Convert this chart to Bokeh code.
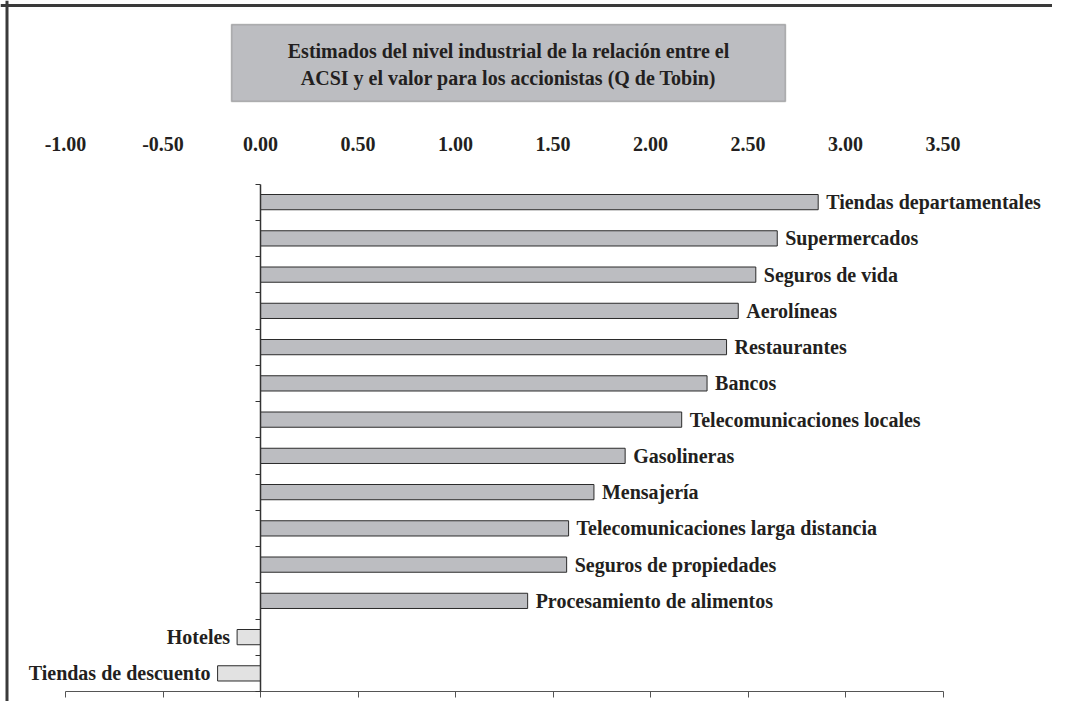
from bokeh.plotting import figure
from bokeh.models import (ColumnDataSource, LinearAxis, FixedTicker, NumeralTickFormatter,
                          BoxAnnotation, Label, Span, Range1d)
from bokeh.core.properties import value
from bokeh.embed import file_html
from bokeh.resources import INLINE

# ---- data (top to bottom) ----
categories = ["Tiendas departamentales", "Supermercados", "Seguros de vida", "Aerolíneas",
              "Restaurantes", "Bancos", "Telecomunicaciones locales", "Gasolineras",
              "Mensajería", "Telecomunicaciones larga distancia", "Seguros de propiedades",
              "Procesamiento de alimentos", "Hoteles", "Tiendas de descuento"]
values = [2.86, 2.65, 2.54, 2.45, 2.39, 2.29, 2.16, 1.87, 1.71, 1.58, 1.57, 1.37, -0.12, -0.22]
x_ticks = [-1.0, -0.5, 0.0, 0.5, 1.0, 1.5, 2.0, 2.5, 3.0, 3.5]
title_lines = ["Estimados del nivel industrial de la relación entre el",
               "ACSI y el valor para los accionistas (Q de Tobin)"]

FONT = "Liberation Serif"
TXT = "#231f20"
FS = "20px"
W, H = 1052, 701

# pixel geometry helpers (canvas px -> data) for decorations
X0, XS = 260.0, 195.0            # px of x=0 and px per unit
YB, YS = 691.0, 36.25            # px of slot boundary 0 and px per slot
def dx(px):
    return (px - X0) / XS
def dy(py):
    return (YB - py) / YS

n = len(categories)
ypos = [n - 0.5 - i for i in range(n)]
fills = ["#bcbdc1" if v >= 0 else "#e2e2e2" for v in values]
aligns = ["left" if v >= 0 else "right" for v in values]
offs = [8 if v >= 0 else -7 for v in values]

src = ColumnDataSource(dict(y=ypos, v=values, cat=categories, fill=fills,
                            align=aligns, off=offs))

p = figure(width=W, height=H, output_backend="svg", toolbar_location=None,
           x_range=Range1d(dx(0), dx(W)), y_range=Range1d(dy(H), dy(0)),
           min_border=0, min_border_left=0, min_border_right=0, min_border_top=0,
           min_border_bottom=0, x_axis_type=None, y_axis_type=None,
           title_location=None)
p.outline_line_color = None
p.xgrid.visible = False
p.ygrid.visible = False
p.background_fill_color = "white"
p.border_fill_color = "white"

# outer frame lines
p.add_layout(Span(location=dx(6.5), dimension="height", line_color="#3a3a3a", line_width=3))
p.add_layout(Span(location=dy(5), dimension="width", line_color="#3a3a3a", line_width=3))

# title box
p.add_layout(BoxAnnotation(left=dx(231), right=dx(785), top=dy(24), bottom=dy(101),
                           fill_color="#bcbdc1", fill_alpha=1, line_color="#3a3a3a",
                           line_width=1.5, level="underlay"))
for t, py in zip(title_lines, [50, 77]):
    p.add_layout(Label(x=dx(508), y=dy(py), text=t, text_align="center",
                       text_baseline="middle", text_font=FONT, text_font_style="bold",
                       text_font_size=FS, text_color=TXT))

# bars
p.hbar(y="y", left=0, right="v", height=0.42, source=src, fill_color="fill",
       line_color="#2b2b2b", line_width=1)

# category labels
p.text(x="v", y="y", text="cat", x_offset="off", text_align="align",
       text_baseline="middle", text_font=value(FONT), text_font_style="bold",
       text_font_size=FS, text_color=TXT, source=src)

# top axis with labels only
top = LinearAxis(fixed_location=dy(160), ticker=FixedTicker(ticks=x_ticks),
                 formatter=NumeralTickFormatter(format="0.00"))
top.axis_line_color = None
top.major_tick_line_color = None
top.minor_tick_line_color = None
top.major_label_standoff = 4
top.major_label_text_font = FONT
top.major_label_text_font_style = "bold"
top.major_label_text_font_size = FS
top.major_label_text_color = TXT
p.add_layout(top, "above")

# bottom axis line with ticks, no labels
bot = LinearAxis(fixed_location=0, ticker=FixedTicker(ticks=x_ticks), bounds=(-1.0, 3.5))
bot.axis_line_color = "#555555"
bot.axis_line_width = 1
bot.major_tick_line_color = "#555555"
bot.major_tick_in = 0
bot.major_tick_out = 6
bot.minor_tick_line_color = None
bot.major_label_overrides = {t: "" for t in x_ticks}
p.add_layout(bot, "below")

# vertical axis at zero with ticks on slot boundaries
left = LinearAxis(fixed_location=0, ticker=FixedTicker(ticks=list(range(n + 1))),
                  bounds=(0, n))
left.axis_line_color = "#333333"
left.axis_line_width = 1.5
left.major_tick_line_color = "#333333"
left.major_tick_in = 0
left.major_tick_out = 5
left.minor_tick_line_color = None
left.major_label_overrides = {i: "" for i in range(n + 1)}
p.add_layout(left, "left")

open("out.html", "w").write(file_html(p, INLINE))
